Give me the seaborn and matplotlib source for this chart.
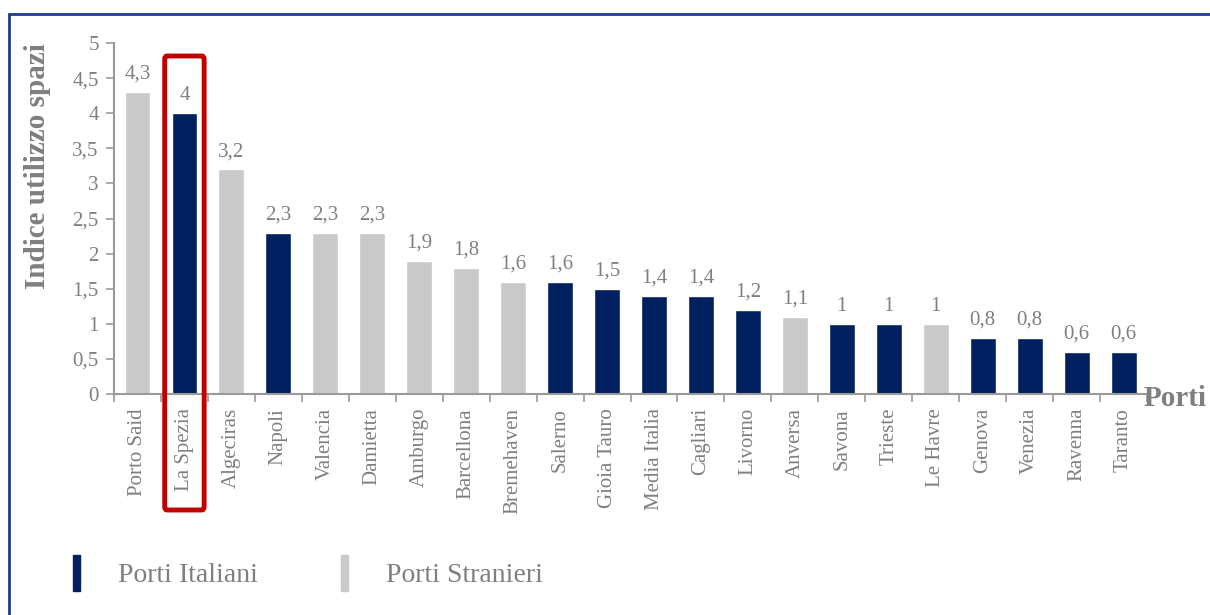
import matplotlib
matplotlib.use("Agg")
import matplotlib.pyplot as plt
import matplotlib.patches as mpatches
import matplotlib.transforms as mtransforms
import numpy as np
import pandas as pd
import seaborn as sns

ports = ["Porto Said", "La Spezia", "Algeciras", "Napoli", "Valencia", "Damietta",
         "Amburgo", "Barcellona", "Bremehaven", "Salerno", "Gioia Tauro", "Media Italia",
         "Cagliari", "Livorno", "Anversa", "Savona", "Trieste", "Le Havre", "Genova",
         "Venezia", "Ravenna", "Taranto"]
index_values = [4.3, 4.0, 3.2, 2.3, 2.3, 2.3, 1.9, 1.8, 1.6, 1.6, 1.5, 1.4,
                1.4, 1.2, 1.1, 1.0, 1.0, 1.0, 0.8, 0.8, 0.6, 0.6]
groups = ["Stranieri", "Italiani", "Stranieri", "Italiani", "Stranieri", "Stranieri",
          "Stranieri", "Stranieri", "Stranieri", "Italiani", "Italiani", "Italiani",
          "Italiani", "Italiani", "Stranieri", "Italiani", "Italiani", "Stranieri",
          "Italiani", "Italiani", "Italiani", "Italiani"]
highlight = "La Spezia"

NAVY = "#002060"
LIGHT = "#c9c9c9"
GREY_TXT = "#7f7f7f"

sns.set_style("ticks")
plt.rcParams["font.family"] = ["Liberation Serif", "DejaVu Serif"]

df = pd.DataFrame({"porto": ports, "indice": index_values, "gruppo": groups})

fig = plt.figure(figsize=(12.1, 6.15), dpi=100)
ax = fig.add_axes([0.0942, 0.3593, 0.8538, 0.5707])

sns.barplot(data=df, x="porto", y="indice", hue="gruppo", order=ports,
            palette={"Italiani": NAVY, "Stranieri": LIGHT}, dodge=False,
            saturation=1, width=0.55, legend=False, ax=ax)

# value labels with comma decimals
for i, v in enumerate(index_values):
    lab = f"{v:g}".replace(".", ",")
    ax.annotate(lab, (i, v), xytext=(0, 6), textcoords="offset points",
                ha="center", va="bottom", fontsize=15, color=GREY_TXT)

ax.set_ylim(0, 5)
ax.set_xlim(-0.5, len(ports) - 0.5)
yt = np.arange(0, 5.01, 0.5)
ax.set_yticks(yt)
ax.set_yticklabels([f"{t:g}".replace(".", ",") for t in yt])
ax.set_xticks(range(len(ports)))
ax.set_xticklabels(ports, rotation=90)
ax.set_xticks(np.arange(-0.5, len(ports)), minor=True)
ax.tick_params(axis="x", which="major", length=0, pad=10, labelsize=15, labelcolor=GREY_TXT)
ax.tick_params(axis="x", which="minor", length=6, color="#999999", width=1.2)
ax.tick_params(axis="y", length=6, color="#999999", width=1.2, labelsize=15,
               labelcolor=GREY_TXT, pad=5)

sns.despine(ax=ax)
for s in ("left", "bottom"):
    ax.spines[s].set_color("#999999")
    ax.spines[s].set_linewidth(1.5)

ax.set_xlabel("")
ax.set_ylabel("Indice utilizzo spazi", fontsize=21, fontweight="bold", color=GREY_TXT)
ax.yaxis.set_label_coords(-0.061, 0.65)
fig.text(0.945, 0.352, "Porti", fontsize=21, fontweight="bold", color=GREY_TXT,
         ha="left", va="center")

# red box around the highlighted port (data x, figure y)
hi = ports.index(highlight)
trans = mtransforms.blended_transform_factory(ax.transData, fig.transFigure)
box = mpatches.FancyBboxPatch((hi - 0.42, 1 - 510 / 615), 0.84, (510 - 56) / 615,
                              boxstyle="round,pad=0,rounding_size=0.05",
                              transform=trans, fill=False, edgecolor="#c00000",
                              linewidth=3.5, clip_on=False, zorder=5,
                              mutation_aspect=0.1)
fig.add_artist(box)

# legend
handles = [mpatches.Patch(color=NAVY, label="Porti Italiani"),
           mpatches.Patch(color=LIGHT, label="Porti Stranieri")]
leg = fig.legend(handles=handles, loc="center left", bbox_to_anchor=(0.0397, 0.068),
                 ncol=2, frameon=False, handlelength=0.25, handleheight=1.6,
                 handletextpad=1.37, columnspacing=3.0, fontsize=20)
for t in leg.get_texts():
    t.set_color(GREY_TXT)

# outer frame
fig.add_artist(mpatches.Rectangle((9 / 1210, -0.1), 1.2, 1 - 14 / 615 + 0.1,
                                  transform=fig.transFigure, fill=False,
                                  edgecolor="#1f3a8a", linewidth=2, clip_on=False))

fig.savefig("out.png", dpi=100, facecolor="white")
